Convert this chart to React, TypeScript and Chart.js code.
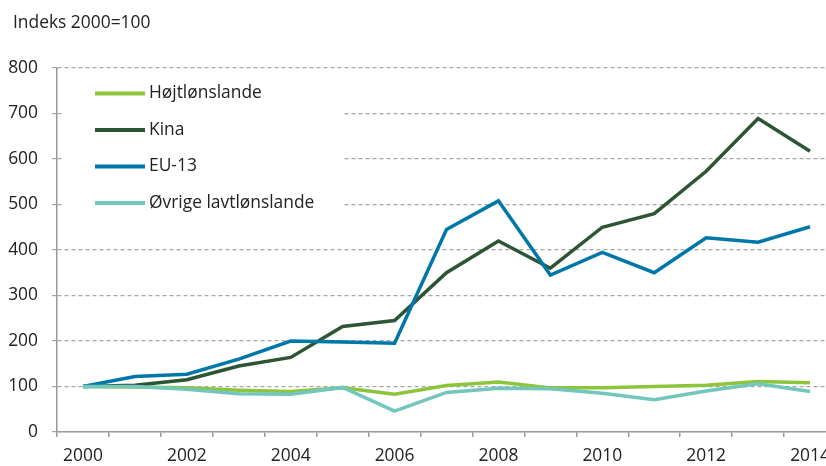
import React, { useEffect, useRef } from "react";
import { Chart, registerables } from "chart.js";

Chart.register(...registerables);

const years = ["2000","2001","2002","2003","2004","2005","2006","2007","2008","2009","2010","2011","2012","2013","2014"];
const hojtlon = [100, 99, 97, 92, 89, 97, 83, 102, 110, 97, 97, 100, 103, 111, 108];
const kina = [100, 103, 115, 145, 164, 232, 245, 350, 420, 360, 450, 480, 573, 689, 617];
const eu13 = [100, 122, 127, 160, 200, 198, 195, 445, 508, 345, 395, 350, 427, 417, 451];
const ovrige = [100, 100, 94, 84, 83, 98, 46, 87, 96, 95, 85, 71, 90, 106, 89];
const seriesNames = ["Højtlønslande", "Kina", "EU-13", "Øvrige lavtlønslande"];
const seriesColors = ["#8cc43c", "#2c5533", "#0077a9", "#72c6bb"];
const yTitle = "Indeks 2000=100";

const FONT = "'Open Sans', sans-serif";
const FS = 17.4;

export default function App() {
  const ref = useRef<HTMLCanvasElement | null>(null);
  useEffect(() => {
    if (!ref.current) return;
    const legendPlugin = {
      id: "customLegend",
      afterDatasetsDraw(chart: any) {
        const ctx = chart.ctx;
        ctx.save();
        ctx.fillStyle = "#ffffff";
        ctx.fillRect(64, 76, 278, 140);
        ctx.font = `${FS}px ${FONT}`;
        ctx.textBaseline = "middle";
        ctx.textAlign = "left";
        seriesNames.forEach((name, i) => {
          const y = 93.5 + i * 36.5;
          ctx.strokeStyle = seriesColors[i];
          ctx.lineWidth = 4;
          ctx.lineCap = "butt";
          ctx.beginPath();
          ctx.moveTo(95, y);
          ctx.lineTo(145, y);
          ctx.stroke();
          ctx.fillStyle = "#222";
          ctx.fillText(name, 149, y);
        });
        ctx.textBaseline = "alphabetic";
        ctx.fillText(yTitle, 13, 28);
        ctx.restore();
      },
    };
    const data = [hojtlon, kina, eu13, ovrige];
    const orders = [3, 2, 1, 0];
    const chart = new Chart(ref.current, {
      type: "line",
      data: {
        labels: years,
        datasets: data.map((d, i) => ({
          label: seriesNames[i],
          data: d,
          borderColor: seriesColors[i],
          backgroundColor: seriesColors[i],
          borderWidth: 3.5,
          pointRadius: 0,
          tension: 0,
          order: orders[i],
        })),
      },
      options: {
        responsive: false,
        animation: false,
        layout: { padding: { left: 0, top: 68, right: 14, bottom: 0 } },
        plugins: { legend: { display: false }, tooltip: { enabled: false } },
        scales: {
          x: {
            type: "category",
            offset: true,
            grid: { offset: true, drawOnChartArea: false, drawTicks: true, tickLength: 5, color: "#999", lineWidth: 1.5 },
            border: { display: true, color: "#999", width: 1.5 },
            ticks: {
              autoSkip: false,
              maxRotation: 0,
              padding: 9,
              color: "#222",
              font: { family: FONT, size: FS },
              callback: (_v: any, i: number) => (i % 2 === 0 ? years[i] : ""),
            },
            afterFit: (s: any) => { s.height = 34; },
          },
          y: {
            min: 0,
            max: 800,
            grid: { color: "#a6a6a6", lineWidth: 1.2, tickLength: 5 },
            border: { display: true, color: "#999", width: 1.5, dash: [4, 3] },
            ticks: {
              stepSize: 100,
              padding: 14,
              color: "#222",
              font: { family: FONT, size: FS },
            },
            afterFit: (s: any) => { s.width = 57; },
          },
        },
      },
      plugins: [legendPlugin],
    });
    return () => chart.destroy();
  }, []);
  return (
    <div style={{ position: "fixed", left: 0, top: 0, width: 826, height: 466, overflow: "hidden", background: "#fff" }}>
      <canvas ref={ref} width={850} height={466} style={{ display: "block" }} />
    </div>
  );
}
